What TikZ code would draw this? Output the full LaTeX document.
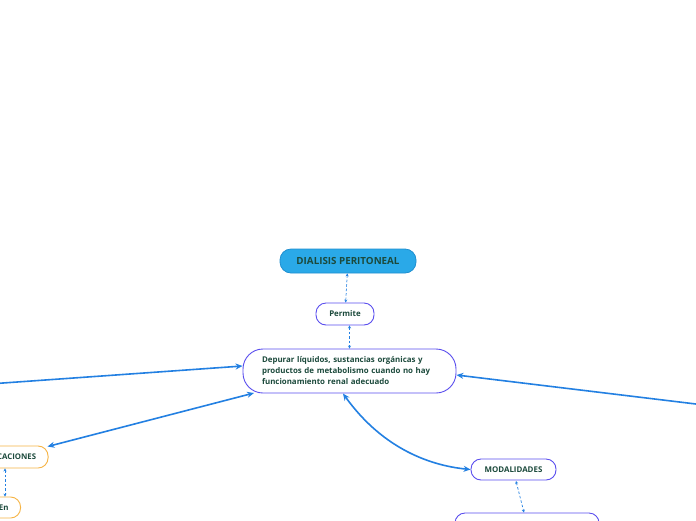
\documentclass[tikz,border=0pt]{standalone}
\usepackage{fontspec}
\setmainfont{Open Sans}
\usetikzlibrary{arrows.meta, positioning}
\definecolor{mTopic}{HTML}{2AA9E8}
\definecolor{mTopicEdge}{HTML}{1F8FD0}
\definecolor{mPurple}{HTML}{5A4EEE}
\definecolor{mOrange}{HTML}{F6B445}
\definecolor{mLink}{HTML}{2380E2}
\definecolor{mText}{HTML}{1C4A3C}

\begin{document}
\begin{tikzpicture}[x=1pt, y=-1pt,
    every node/.style={font=\bfseries\fontsize{7.9}{11}\selectfont, text=mText},
    topic/.style={draw=mTopicEdge, fill=mTopic, line width=0.8pt, rounded corners=11pt,
      minimum width=136pt, minimum height=24pt, font=\bfseries\fontsize{9.8}{11}\selectfont},
    bubble/.style={draw=mPurple, fill=white, line width=0.9pt, rounded corners=10pt, minimum height=22pt},
    obubble/.style={bubble, draw=mOrange},
    link/.style={mLink, line width=0.7pt, dash pattern=on 2.5pt off 2pt,
      {Stealth[length=3pt,width=3pt]}-{Stealth[length=3pt,width=3pt]}},
    rel/.style={mLink, line width=1.6pt, -{Stealth[length=7pt,width=6pt]}},
    both/.style={rel, {Stealth[length=7pt,width=6pt]}-{Stealth[length=7pt,width=6pt]}}]
    \path[use as bounding box, clip] (0,0) rectangle (696,520);
    \fill[white] (0,0) rectangle (696,520);

    % central part of the map
    \node[topic] (dialisis) at (348,261) {DIALISIS PERITONEAL};
    \node[bubble, minimum width=58pt] (permite) at (345,314) {Permite};
    \node[bubble, rounded corners=20pt, minimum width=213pt, minimum height=44pt,
      text width=175pt, align=left, inner xsep=19pt] (depurar) at (349.5,371)
      {Depurar líquidos, sustancias orgánicas y\\productos de metabolismo cuando no hay\\funcionamiento renal adecuado};
    \draw[link] (dialisis) -- (permite);
    \draw[link] (permite.south -| depurar.north) -- (depurar);

    % left branch (cut by the page edge)
    \node[obubble, anchor=east, inner xsep=12pt, font=\bfseries\fontsize{7.8}{9}\selectfont] (caciones) at (48.5,457) {CACIONES};
    \node[obubble, anchor=east, inner xsep=12pt, minimum height=21pt] (en) at (21,507.5) {En};
    \draw[link] (caciones.south -| 5,0) -- (en.north -| 5,0);

    % right branch
    \node[bubble, minimum width=85pt, minimum height=21pt, font=\bfseries\fontsize{7.9}{9}\selectfont] (modalidades) at (513.5,469.5) {MODALIDADES};
    \node[bubble, minimum width=144pt, minimum height=22pt] (modo) at (527,524) {};
    \draw[link] (516,481) -- (modo.north -| 524,0);

    % relations to the central topic
    \coordinate (offleft) at (-4,383.5);
    \coordinate (offright) at (700,404.5);
    \draw[rel] (offleft) -- (depurar.west |- 0,366);
    \draw[rel] (offright) -- (depurar.east |- 0,375);
    \draw[both] (caciones.north east) ++(-1,1) -- (254,393);
    \draw[both] (343,393.5) .. controls (380,445) and (425,465) .. (modalidades.west);
  \end{tikzpicture}
\end{document}
